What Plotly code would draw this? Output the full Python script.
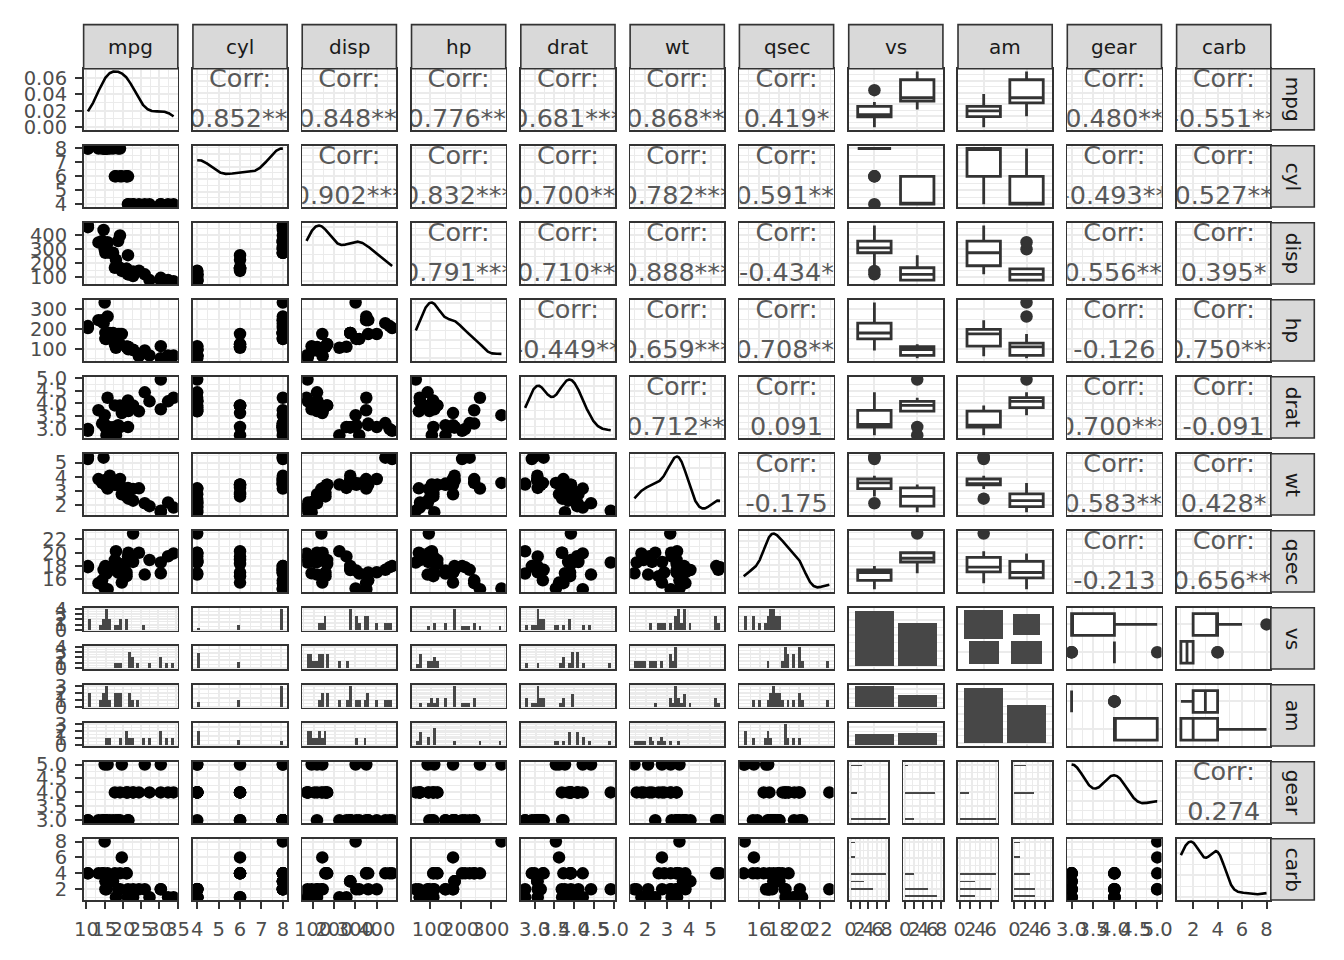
import math
import numpy as np
import plotly.graph_objects as go

# ---------------- data (mtcars) ----------------
var_names = ["mpg", "cyl", "disp", "hp", "drat", "wt", "qsec", "vs", "am", "gear", "carb"]
mpg = [21.0, 21.0, 22.8, 21.4, 18.7, 18.1, 14.3, 24.4, 22.8, 19.2, 17.8, 16.4, 17.3, 15.2, 10.4, 10.4,
       14.7, 32.4, 30.4, 33.9, 21.5, 15.5, 15.2, 13.3, 19.2, 27.3, 26.0, 30.4, 15.8, 19.7, 15.0, 21.4]
cyl = [6, 6, 4, 6, 8, 6, 8, 4, 4, 6, 6, 8, 8, 8, 8, 8, 8, 4, 4, 4, 4, 8, 8, 8, 8, 4, 4, 4, 8, 6, 8, 4]
disp = [160, 160, 108, 258, 360, 225, 360, 146.7, 140.8, 167.6, 167.6, 275.8, 275.8, 275.8, 472, 460,
        440, 78.7, 75.7, 71.1, 120.1, 318, 304, 350, 400, 79, 120.3, 95.1, 351, 145, 301, 121]
hp = [110, 110, 93, 110, 175, 105, 245, 62, 95, 123, 123, 180, 180, 180, 205, 215, 230, 66, 52, 65, 97,
      150, 150, 245, 175, 66, 91, 113, 264, 175, 335, 109]
drat = [3.90, 3.90, 3.85, 3.08, 3.15, 2.76, 3.21, 3.69, 3.92, 3.92, 3.92, 3.07, 3.07, 3.07, 2.93, 3.00,
        3.23, 4.08, 4.93, 4.22, 3.70, 2.76, 3.15, 3.73, 3.08, 4.08, 4.43, 3.77, 4.22, 3.62, 3.54, 4.11]
wt = [2.620, 2.875, 2.320, 3.215, 3.440, 3.460, 3.570, 3.190, 3.150, 3.440, 3.440, 4.070, 3.730, 3.780,
      5.250, 5.424, 5.345, 2.200, 1.615, 1.835, 2.465, 3.520, 3.435, 3.840, 3.845, 1.935, 2.140, 1.513,
      3.170, 2.770, 3.570, 2.780]
qsec = [16.46, 17.02, 18.61, 19.44, 17.02, 20.22, 15.84, 20.00, 22.90, 18.30, 18.90, 17.40, 17.60, 18.00,
        17.98, 17.82, 17.42, 19.47, 18.52, 19.90, 20.01, 16.87, 17.30, 15.41, 17.05, 18.90, 16.70, 16.90,
        14.50, 15.50, 14.60, 18.60]
vs = [0, 0, 1, 1, 0, 1, 0, 1, 1, 1, 1, 0, 0, 0, 0, 0, 0, 1, 1, 1, 1, 0, 0, 0, 0, 1, 0, 1, 0, 0, 0, 1]
am = [1, 1, 1, 0, 0, 0, 0, 0, 0, 0, 0, 0, 0, 0, 0, 0, 0, 1, 1, 1, 0, 0, 0, 0, 0, 1, 1, 1, 1, 1, 1, 1]
gear = [4, 4, 4, 3, 3, 3, 3, 4, 4, 4, 4, 3, 3, 3, 3, 3, 3, 4, 4, 4, 3, 3, 3, 3, 3, 4, 5, 5, 5, 5, 5, 4]
carb = [4, 4, 1, 1, 2, 1, 4, 2, 2, 4, 4, 3, 3, 3, 4, 4, 4, 1, 2, 1, 1, 2, 2, 4, 2, 1, 2, 2, 4, 6, 8, 2]

discrete_vars = ["vs", "am"]
levels = [0, 1]

mpg_ticks = [10, 15, 20, 25, 30, 35]
cyl_ticks = [4, 5, 6, 7, 8]
disp_ticks = [100, 200, 300, 400]
hp_ticks = [100, 200, 300]
drat_ticks = [3.0, 3.5, 4.0, 4.5, 5.0]
wt_ticks = [2, 3, 4, 5]
qsec_ticks = [16, 18, 20, 22]
gear_ticks = [3.0, 3.5, 4.0, 4.5, 5.0]
carb_ticks = [2, 4, 6, 8]
density_ticks = [0.00, 0.02, 0.04, 0.06]
hist_bins = 30

data = {"mpg": mpg, "cyl": cyl, "disp": disp, "hp": hp, "drat": drat, "wt": wt, "qsec": qsec,
        "vs": vs, "am": am, "gear": gear, "carb": carb}
ticks = {"mpg": mpg_ticks, "cyl": cyl_ticks, "disp": disp_ticks, "hp": hp_ticks, "drat": drat_ticks,
         "wt": wt_ticks, "qsec": qsec_ticks, "gear": gear_ticks, "carb": carb_ticks}

# ---------------- style / geometry ----------------
W, H = 1344, 960
FONT = "DejaVu Sans, Liberation Sans, Arial, sans-serif"
GRID = "#EBEBEB"
BORDER = "#333333"
FILL = "#474747"
TICKCOL = "#4D4D4D"
TICKSIZE = 19.5
STRIPSIZE = 20
CORRSIZE = 25.5
LEFT, TOP = 74.0, 60.0
PITCH_X, PITCH_Y = 111.37, 78.73
PW, PH = 96.0, 62.6
GAP = 15.4
STRIP_TOP = 15.0
STRIP_RIGHT = 1328.0

layout_axes = {}
traces = []
shapes = []
annotations = []
n_ax = [0]


def fx(px):
    return px / W


def fy(py):
    return 1 - py / H


def add_axes(x0, y0, x1, y1):
    n_ax[0] += 1
    k = n_ax[0]
    s = "" if k == 1 else str(k)
    xa = dict(domain=[fx(x0), fx(x1)], anchor="y" + s)
    ya = dict(domain=[fy(y1), fy(y0)], anchor="x" + s)
    layout_axes["xaxis" + s] = xa
    layout_axes["yaxis" + s] = ya
    return "x" + s, "y" + s, xa, ya


def expand(lo, hi, f=0.05):
    d = (hi - lo) * f
    return (lo - d, hi + d)


def minor_of(major, rng):
    if len(major) < 2:
        return []
    step = major[1] - major[0]
    cand = [major[0] - step / 2] + [m + step / 2 for m in major]
    return [c for c in cand if rng[0] <= c <= rng[1]]


def fmt(vals):
    if len(vals) < 2:
        return [str(v) for v in vals]
    step = vals[1] - vals[0]
    dec = 0
    while dec < 5 and abs(round(step * 10 ** dec) - step * 10 ** dec) > 1e-9:
        dec += 1
    return [f"{v:.{dec}f}" for v in vals]


def nice_breaks(rng, integer=False):
    lo, hi = rng
    span = hi - lo
    mag = 10 ** math.floor(math.log10(span / 5))
    step = mag
    for m in (1, 2, 2.5, 5, 10, 20, 25, 50):
        step = m * mag
        if integer and (step < 1 or abs(step - round(step)) > 1e-9):
            continue
        if span / step <= 5.5:
            break
    t = math.ceil(lo / step - 1e-9) * step
    out = []
    while t <= hi + 1e-9:
        out.append(round(t, 10))
        t += step
    return out


def setup(ax, rng, major, minor, labels=None):
    ax.update(range=list(rng), showline=True, mirror=True, linecolor=BORDER, linewidth=1.6,
              showgrid=True, gridcolor=GRID, gridwidth=2, zeroline=False,
              tickmode="array", tickvals=list(major), fixedrange=True,
              minor=dict(tickmode="array", tickvals=list(minor), showgrid=True,
                         gridcolor=GRID, gridwidth=1, ticks=""),
              ticks="", showticklabels=False, tickangle=0)
    if labels is not None:
        ax.update(showticklabels=True, ticktext=list(labels), ticks="outside", ticklen=7,
                  tickwidth=2, tickcolor=BORDER, ticklabelstandoff=4,
                  tickfont=dict(family=FONT, size=TICKSIZE, color=TICKCOL))


def cont_range(v):
    a = np.asarray(data[v], float)
    return expand(a.min(), a.max())


def cont_axis(ax, v, labels=False, rng=None):
    rng = rng if rng is not None else cont_range(v)
    major = [t for t in ticks[v] if rng[0] <= t <= rng[1]]
    setup(ax, rng, major, minor_of(major, rng), fmt(major) if labels else None)


def disc_axis(ax):
    setup(ax, (0.4, 2.6), [1, 2], [], None)


def count_axis(ax, maxc, labels=False):
    rng = expand(0, maxc)
    major = nice_breaks(rng, integer=True)
    setup(ax, rng, major, minor_of(major, rng), fmt(major) if labels else None)


def hist_edges(v):
    a = np.asarray(data[v], float)
    w = (a.max() - a.min()) / (hist_bins - 1)
    return a.min() - w / 2 + w * np.arange(hist_bins + 1), w


def hist_counts(vals, edges):
    v = np.asarray(vals, float)
    idx = np.searchsorted(edges, v, side="left") - 1
    idx = np.clip(idx, 0, len(edges) - 2)
    return np.bincount(idx, minlength=len(edges) - 1)


def subset(vals, groups, lvl):
    return [x for x, g in zip(vals, groups) if g == lvl]


def t_pvalue(t, df):
    xs = np.linspace(0, abs(t), 40001)
    c = math.gamma((df + 1) / 2) / (math.sqrt(df * math.pi) * math.gamma(df / 2))
    pdf = c * (1 + xs ** 2 / df) ** (-(df + 1) / 2)
    return 2 * (0.5 - np.trapezoid(pdf, xs))


def bar(xa, ya, **kw):
    traces.append(go.Bar(xaxis=xa, yaxis=ya, marker=dict(color=FILL, line=dict(width=0)),
                         hoverinfo="skip", **kw))


# ---------------- panels ----------------
def diag_density(v, box):
    xa, ya, X, Y = add_axes(*box)
    a = np.asarray(data[v], float)
    n = len(a)
    q1, q3 = np.percentile(a, [25, 75])
    bw = 0.9 * min(a.std(ddof=1), (q3 - q1) / 1.34) * n ** -0.2
    xs = np.linspace(a.min(), a.max(), 512)
    dens = np.exp(-0.5 * ((xs[:, None] - a[None, :]) / bw) ** 2).sum(1) / (n * bw * math.sqrt(2 * math.pi))
    traces.append(go.Scatter(x=xs, y=dens, mode="lines", line=dict(color="black", width=2.6),
                             xaxis=xa, yaxis=ya, hoverinfo="skip"))
    return X, Y, expand(0, dens.max())


def corr_panel(rv, cv, box):
    xa, ya, X, Y = add_axes(*box)
    x = np.asarray(data[cv], float)
    y = np.asarray(data[rv], float)
    r = np.corrcoef(x, y)[0, 1]
    t = r * math.sqrt((len(x) - 2) / (1 - r * r))
    p = t_pvalue(t, len(x) - 2)
    stars = "***" if p < 0.001 else "**" if p < 0.01 else "*" if p < 0.05 else "." if p < 0.1 else ""
    label = f"{r:.3f}" + stars
    xr = cont_range(cv)
    yr = cont_range(rv)
    xc = (xr[0] + xr[1]) / 2
    for txt, frac in (("Corr:", 0.80), (label, 0.15)):
        traces.append(go.Scatter(x=[xc], y=[yr[0] + frac * (yr[1] - yr[0])], mode="text", text=[txt],
                                 textposition="middle center", cliponaxis=True,
                                 textfont=dict(family=FONT, size=CORRSIZE, color="#595959"),
                                 xaxis=xa, yaxis=ya, hoverinfo="skip"))
    return X, Y


box_style = dict(width=0.78, fillcolor="white", line=dict(color=BORDER, width=2.8),
                 marker=dict(color=BORDER, size=12.5, line=dict(width=0)),
                 boxpoints="outliers", jitter=0, pointpos=0, whiskerwidth=0,
                 quartilemethod="linear", hoverinfo="skip")

for i, rv in enumerate(var_names):
    for j, cv in enumerate(var_names):
        x0 = LEFT + j * PITCH_X
        x1 = x0 + PW
        y0 = TOP + i * PITCH_Y
        y1 = y0 + PH
        box = (x0, y0, x1, y1)
        xl = (i == len(var_names) - 1)
        yl = (j == 0)
        rd = rv in discrete_vars
        cd = cv in discrete_vars
        if i == j:
            if rd:
                xa, ya, X, Y = add_axes(*box)
                counts = [data[rv].count(l) for l in levels]
                bar(xa, ya, x=[1, 2], y=counts, width=0.9)
                disc_axis(X)
                count_axis(Y, max(counts))
            else:
                X, Y, yr = diag_density(rv, box)
                cont_axis(X, cv, labels=xl)
                if yl:
                    major = [t for t in density_ticks if yr[0] <= t <= yr[1]]
                    setup(Y, yr, major, minor_of(major, yr), fmt(major))
                else:
                    major = nice_breaks(yr)
                    setup(Y, yr, major, minor_of(major, yr))
        elif i < j:
            if not rd and not cd:
                X, Y = corr_panel(rv, cv, box)
                cont_axis(X, cv)
                cont_axis(Y, rv)
            elif not rd and cd:
                xa, ya, X, Y = add_axes(*box)
                xpos = [1 if g == 0 else 2 for g in data[cv]]
                traces.append(go.Box(x=xpos, y=data[rv], orientation="v", xaxis=xa, yaxis=ya, **box_style))
                disc_axis(X)
                cont_axis(Y, rv)
            elif rd and not cd:
                xa, ya, X, Y = add_axes(*box)
                ypos = [2 if g == 0 else 1 for g in data[rv]]
                traces.append(go.Box(x=data[cv], y=ypos, orientation="h", xaxis=xa, yaxis=ya, **box_style))
                cont_axis(X, cv)
                disc_axis(Y)
            else:
                xa, ya, X, Y = add_axes(*box)
                pairs = [(rl, cl) for rl in levels for cl in levels]
                cnt = [sum(1 for a_, b_ in zip(data[rv], data[cv]) if a_ == rl and b_ == cl) for rl, cl in pairs]
                cmax = max(cnt)
                xs, hs, bs, ws = [], [], [], []
                for (rl, cl), c in zip(pairs, cnt):
                    s = math.sqrt(c / cmax)
                    yc = 2 if rl == 0 else 1
                    xs.append(1 if cl == 0 else 2)
                    ws.append(2 * 0.46 * s)
                    hs.append(2 * 0.53 * s)
                    bs.append(yc - 0.53 * s)
                bar(xa, ya, x=xs, y=hs, base=bs, width=ws)
                disc_axis(X)
                disc_axis(Y)
        else:
            if not rd and not cd:
                xa, ya, X, Y = add_axes(*box)
                traces.append(go.Scatter(x=data[cv], y=data[rv], mode="markers",
                                         marker=dict(color="black", size=12.5, line=dict(width=0)),
                                         xaxis=xa, yaxis=ya, hoverinfo="skip"))
                cont_axis(X, cv, labels=xl)
                cont_axis(Y, rv, labels=yl)
            elif rd and not cd:
                edges, w = hist_edges(cv)
                centers = (edges[:-1] + edges[1:]) / 2
                cnts = [hist_counts(subset(data[cv], data[rv], l), edges) for l in levels]
                cmax = max(c.max() for c in cnts)
                sh = (PH - GAP) / 2
                for k, l in enumerate(levels):
                    sy0 = y0 if k == 0 else y1 - sh
                    xa, ya, X, Y = add_axes(x0, sy0, x1, sy0 + sh)
                    bar(xa, ya, x=centers, y=cnts[k], width=w)
                    cont_axis(X, cv, rng=expand(edges[0], edges[-1]))
                    count_axis(Y, cmax, labels=yl)
            elif not rd and cd:
                edges, w = hist_edges(rv)
                centers = (edges[:-1] + edges[1:]) / 2
                cnts = [hist_counts(subset(data[rv], data[cv], l), edges) for l in levels]
                cmax = max(c.max() for c in cnts)
                sw = (PW - GAP) / 2
                for k, l in enumerate(levels):
                    sx0 = x0 if k == 0 else x1 - sw
                    xa, ya, X, Y = add_axes(sx0, y0, sx0 + sw, y1)
                    bar(xa, ya, y=centers, x=cnts[k], width=w, orientation="h")
                    count_axis(X, cmax, labels=xl)
                    cont_axis(Y, rv, rng=expand(edges[0], edges[-1]))
            else:
                cnts = [[sum(1 for a_, b_ in zip(data[rv], data[cv]) if a_ == rl and b_ == cl)
                         for cl in levels] for rl in levels]
                cmax = max(max(c) for c in cnts)
                sh = (PH - GAP) / 2
                for k, rl in enumerate(levels):
                    sy0 = y0 if k == 0 else y1 - sh
                    xa, ya, X, Y = add_axes(x0, sy0, x1, sy0 + sh)
                    bar(xa, ya, x=[1, 2], y=cnts[k], width=0.9)
                    disc_axis(X)
                    count_axis(Y, cmax)


# ---------------- strips ----------------
def paper_rect(px0, py0, px1, py1):
    shapes.append(dict(type="rect", xref="paper", yref="paper", x0=fx(px0), x1=fx(px1),
                       y0=fy(py1), y1=fy(py0), fillcolor="#D9D9D9",
                       line=dict(color=BORDER, width=1.6), layer="above"))


for j, name in enumerate(var_names):
    x0 = LEFT + j * PITCH_X
    paper_rect(x0, STRIP_TOP, x0 + PW, TOP)
    annotations.append(dict(x=fx(x0 + PW / 2), y=fy((STRIP_TOP + TOP) / 2), xref="paper", yref="paper",
                            text=name, showarrow=False, xanchor="center", yanchor="middle",
                            font=dict(family=FONT, size=STRIPSIZE, color="#1A1A1A")))

for i, name in enumerate(var_names):
    y0 = TOP + i * PITCH_Y
    sx0 = LEFT + (len(var_names) - 1) * PITCH_X + PW
    paper_rect(sx0, y0, STRIP_RIGHT, y0 + PH)
    annotations.append(dict(x=fx((sx0 + STRIP_RIGHT) / 2), y=fy(y0 + PH / 2), xref="paper", yref="paper",
                            text=name, showarrow=False, xanchor="center", yanchor="middle", textangle=90,
                            font=dict(family=FONT, size=STRIPSIZE, color="#1A1A1A")))

fig = go.Figure(data=traces)
fig.update_layout(width=W, height=H, margin=dict(l=0, r=0, t=0, b=0), autosize=False,
                  paper_bgcolor="white", plot_bgcolor="white", showlegend=False,
                  bargap=0, barmode="overlay", hovermode=False,
                  font=dict(family=FONT, color=TICKCOL),
                  shapes=shapes, annotations=annotations, **layout_axes)
fig.write_html("out.html", config={"displayModeBar": False, "staticPlot": True})
